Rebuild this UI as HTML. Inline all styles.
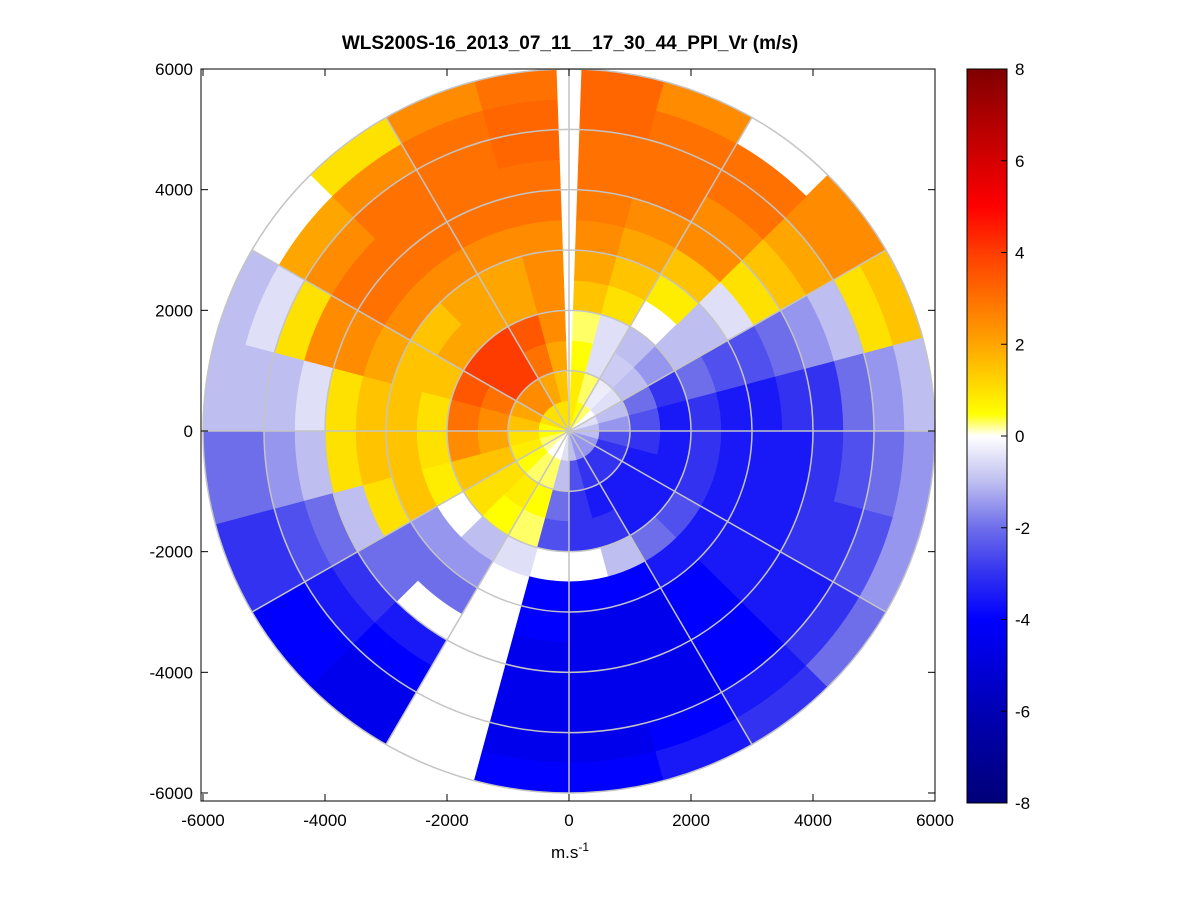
<!DOCTYPE html>
<html><head><meta charset="utf-8"><style>
body{margin:0;background:#fff;}
svg{display:block;font-family:"Liberation Sans",sans-serif;}
</style></head><body>
<svg id="chart" width="1201" height="901">
<text x="570" y="49" text-anchor="middle" font-size="19" font-weight="bold">WLS200S-16_2013_07_11__17_30_44_PPI_Vr (m/s)</text>
<g id="cells"></g>
<g id="grid"></g>
<rect x="201" y="69" width="734" height="732" fill="none" stroke="#000" stroke-width="1"/>
<g id="axes"></g>
<text x="570" y="858" text-anchor="middle" font-size="17">m.s<tspan dy="-7" font-size="12">-1</tspan></text>
<defs><linearGradient id="cbg" x1="0" y1="1" x2="0" y2="0">
<stop offset="0" stop-color="rgb(0,0,120)"/><stop offset="0.125" stop-color="rgb(0,0,180)"/>
<stop offset="0.25" stop-color="rgb(0,0,255)"/><stop offset="0.3125" stop-color="rgb(50,50,240)"/>
<stop offset="0.375" stop-color="rgb(110,110,235)"/><stop offset="0.4375" stop-color="rgb(190,190,240)"/>
<stop offset="0.5" stop-color="rgb(255,255,255)"/><stop offset="0.53" stop-color="rgb(255,255,0)"/>
<stop offset="0.625" stop-color="rgb(255,165,0)"/><stop offset="0.75" stop-color="rgb(255,60,0)"/>
<stop offset="0.8125" stop-color="rgb(255,0,0)"/><stop offset="1" stop-color="rgb(128,0,0)"/>
</linearGradient></defs>
<rect x="967" y="69" width="40" height="734" fill="url(#cbg)" stroke="#000"/>
<g id="cbticks"></g>
</svg>
<script>
const ticks=[-6000,-4000,-2000,0,2000,4000,6000];
const cbTicks=[8,6,4,2,0,-2,-4,-6,-8];
const sectorStep=15;
const gateStep=500;
// rows: sectors by math angle (0=east, CCW), cols: range gates 0..6000 m
const vr=[
[-1,-1.5,-2.5,-3.5,-3,-3.5,-3.5,-3,-3,-2,-1.5,-1],
[-0.5,-1,-2,-3,-2,-2.5,-2.5,-2,-1.5,-1,1,1.5],
[0,-0.5,-1,-1.5,-1,-1,-0.5,1,1.5,2,2.5,2.5],
[0.3,-0.3,-0.8,-1,null,0.8,1.5,2.5,2.5,3,3,null],
[0.5,0.3,-0.5,-0.5,1,1.5,2,2.5,3,3,3,2.5],
[0.8,0.8,0.5,0.3,1.5,2,2.5,2.8,3,3,3.2,3.2],
[1,1.5,2,2.5,2.5,2.5,2.5,3,3,3.2,3.2,3],
[1,2,3,3.5,2,2,2.5,3,3,3,3,2.5],
[1,2.5,4,4,2,2,2.5,3,3,3,2.5,1],
[1,2.5,4,4,2,1.5,2.5,3,3,2.5,2,0],
[1,2,3,3.5,1.5,1.5,2,2.5,2.5,1,-0.5,-1],
[0.5,1.5,2.5,3,1,1.5,1.5,1,-0.5,-1,-1,-1],
[0.5,1,2,2.5,1,1.5,1.5,1,-1,-1.5,-2,-2],
[0.3,0.8,1.5,1.5,0.8,1.5,1,-1,-2,-2.5,-3,-3],
[0.2,0.5,1,1,null,-1.5,-2,-2,-3,-3.5,-4,-4],
[0,0.3,0.8,0.5,-1,-1.5,-2,null,-3.5,-4,-4.5,-4.5],
[0,0.3,0.5,0.3,-0.5,null,null,null,null,null,null,null],
[-0.5,-1,-2,-2.5,null,-4,-4,-4.5,-4.5,-4.5,-4.5,-4],
[-1,-2.5,-3,-3,null,-4,-4.5,-4.5,-4.5,-4.5,-4.5,-4],
[-1.5,-3,-3.5,-3,-1,-4,-4.5,-4.5,-4.5,-4.5,-4,-3.5],
[-1.5,-3,-3.5,-3.5,-2,-3.5,-4,-4,-4,-4,-3.5,-3],
[-1.5,-3,-3.5,-3.5,-2.5,-3.5,-3.5,-3.5,-3.5,-3.5,-3,-2],
[-1.5,-3,-3.5,-3.5,-3,-3.5,-3.5,-3.5,-3,-3,-2.5,-1.5],
[-1,-2.5,-3,-3.5,-3,-3.5,-3.5,-3.5,-3,-2.5,-2,-1.5]
];
const NS="http://www.w3.org/2000/svg";
const cx=569, cy=431, sx=0.0610, sy=0.06033;
function X(v){return cx+v*sx;}
function Y(v){return cy-v*sy;}
function cbY(v){return 69+(8-v)*(734/16);}
const stops=[[-8,[0,0,120]],[-6,[0,0,180]],[-4,[0,0,255]],[-3,[50,50,240]],[-2,[110,110,235]],[-1,[190,190,240]],[0,[255,255,255]],[0.5,[255,255,0]],[2,[255,165,0]],[4,[255,60,0]],[5,[255,0,0]],[8,[128,0,0]]];
function col(v){
  if(v<=stops[0][0])return 'rgb(0,0,120)';
  for(let i=1;i<stops.length;i++){if(v<=stops[i][0]){const a=stops[i-1],b=stops[i];const t=(v-a[0])/(b[0]-a[0]);
    const c=a[1].map((q,j)=>Math.round(q+(b[1][j]-q)*t));return `rgb(${c[0]},${c[1]},${c[2]})`;}}
  return 'rgb(128,0,0)';
}
function pt(r,a){const t=a*Math.PI/180;return [X(r*Math.cos(t)),Y(r*Math.sin(t))];}
function sectorPath(r0,r1,a0,a1){
  const p1=pt(r0,a0),p2=pt(r1,a0),p3=pt(r1,a1),p4=pt(r0,a1);
  const rx1=r1*sx,ry1=r1*sy,rx0=r0*sx,ry0=r0*sy;
  return `M${p1[0]},${p1[1]}L${p2[0]},${p2[1]}A${rx1},${ry1} 0 0 0 ${p3[0]},${p3[1]}L${p4[0]},${p4[1]}`+(r0>0?`A${rx0},${ry0} 0 0 1 ${p1[0]},${p1[1]}`:'')+'Z';
}
const cells=document.getElementById('cells');
vr.forEach((row,k)=>{row.forEach((v,g)=>{
  if(v===null)return;
  let a0=k*sectorStep,a1=a0+sectorStep;
  const segs=[];
  if(a0<92&&a1>88){ if(a0<88)segs.push([a0,88]); if(a1>92)segs.push([92,a1]); } else segs.push([a0,a1]);
  segs.forEach(s=>{
    const p=document.createElementNS(NS,'path');
    p.setAttribute('d',sectorPath(g*gateStep,(g+1)*gateStep,s[0],s[1]));
    p.setAttribute('fill',col(v));p.setAttribute('stroke',col(v));p.setAttribute('stroke-width','0.6');
    
    
    cells.appendChild(p);
  });
});});
const grid=document.getElementById('grid');
for(let r=1000;r<=6000;r+=1000){const e=document.createElementNS(NS,'ellipse');
  e.setAttribute('cx',cx);e.setAttribute('cy',cy);e.setAttribute('rx',r*sx);e.setAttribute('ry',r*sy);
  e.setAttribute('fill','none');e.setAttribute('stroke','#c4c4c4');e.setAttribute('stroke-width','1.5');
  
  
  grid.appendChild(e);}
for(let a=0;a<360;a+=30){const p=pt(6000,a);const l=document.createElementNS(NS,'line');
  l.setAttribute('x1',cx);l.setAttribute('y1',cy);l.setAttribute('x2',p[0]);l.setAttribute('y2',p[1]);
  l.setAttribute('stroke','#c4c4c4');l.setAttribute('stroke-width','1.5');
  
  
  grid.appendChild(l);}
const axes=document.getElementById('axes');
function mk(tag,attrs,txt){const e=document.createElementNS(NS,tag);for(const k in attrs)e.setAttribute(k,attrs[k]);if(txt!==undefined)e.textContent=txt;axes.appendChild(e);return e;}
ticks.forEach(t=>{
  const x=X(t),y=Y(t);
  let e=mk('line',{x1:x,y1:801,x2:x,y2:794,stroke:'#000'});
  
  
  e=mk('line',{x1:x,y1:69,x2:x,y2:76,stroke:'#000'});
  
  
  e=mk('text',{x:x,y:826,'text-anchor':'middle','font-size':'17'},t);
  
  
  e=mk('line',{x1:201,y1:y,x2:208,y2:y,stroke:'#000'});
  
  
  e=mk('line',{x1:935,y1:y,x2:928,y2:y,stroke:'#000'});
  
  
  e=mk('text',{x:193,y:y+6,'text-anchor':'end','font-size':'17'},t);
  
  
});
const cbt=document.getElementById('cbticks');
cbTicks.forEach(t=>{
  const y=cbY(t);
  let e=document.createElementNS(NS,'line');
  e.setAttribute('x1',1007);e.setAttribute('x2',1001);e.setAttribute('y1',y);e.setAttribute('y2',y);e.setAttribute('stroke','#000');
  
  
  cbt.appendChild(e);
  e=document.createElementNS(NS,'text');
  e.setAttribute('x',1015);e.setAttribute('y',y+6);e.setAttribute('font-size','17');e.textContent=t;
  
  
  cbt.appendChild(e);
});
</script>
</body></html>
